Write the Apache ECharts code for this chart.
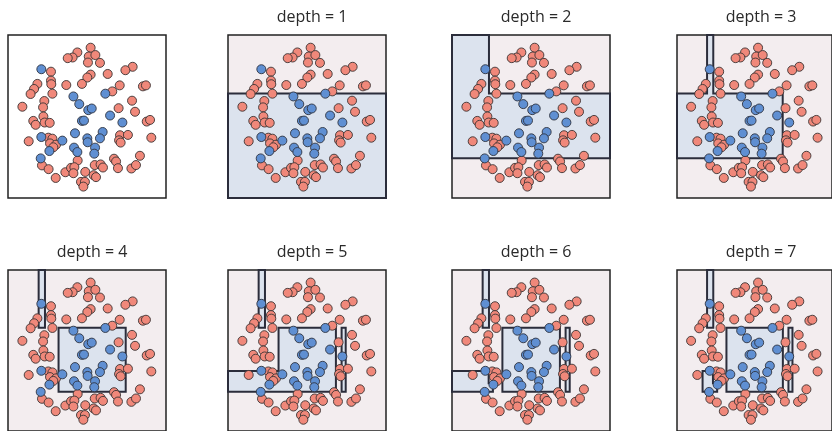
<!DOCTYPE html>
<html>
<head>
<meta charset="utf-8">
<script src="https://cdn.jsdelivr.net/npm/echarts@6/dist/echarts.min.js"></script>
<style>
  html, body { margin: 0; padding: 0; background: #ffffff; }
  #chart { width: 832px; height: 431px; }
</style>
</head>
<body>
<div id="chart"></div>
<script>
// Two-class sample (x, y in 0..100 units)
const redPoints = [
  [52.3, 92.2], [43.9, 89.3], [40.9, 86.2], [37.8, 85.8], [51.1, 86.8], [55.3, 87.7],
  [50.6, 83.1], [58.2, 82.9], [27.2, 77.5], [78.9, 80.5], [74.3, 78.4], [63.1, 76.1],
  [52.3, 75.7], [50.2, 73.9], [27.2, 72.0], [27.4, 69.8], [18.6, 70.0], [16.5, 66.9],
  [14.3, 63.8], [36.9, 69.3], [46.8, 70.0], [70.7, 69.1], [85.4, 68.5], [87.3, 69.1],
  [66.0, 65.4], [28.1, 64.0], [23.0, 59.5], [22.2, 55.6], [9.1, 56.0], [78.5, 59.7],
  [70.0, 55.1], [80.4, 52.9], [22.4, 50.0], [16.0, 47.3], [17.5, 44.9], [23.2, 46.3],
  [26.4, 46.1], [87.8, 46.9], [89.9, 47.9], [13.1, 34.8], [25.5, 37.0], [28.1, 36.4],
  [26.6, 33.5], [30.4, 32.7], [28.7, 31.1], [70.9, 38.5], [75.9, 38.7], [70.3, 35.4],
  [71.3, 34.0], [90.7, 37.0], [83.5, 25.9], [44.1, 23.0], [67.1, 24.1], [68.4, 22.4],
  [21.5, 20.0], [25.7, 17.7], [54.9, 20.2], [58.6, 20.6], [60.1, 18.7], [69.6, 18.3],
  [78.1, 18.1], [81.0, 20.2], [36.3, 15.8], [39.9, 18.5], [42.0, 18.9], [41.4, 15.2],
  [48.9, 16.0], [54.2, 14.0], [55.7, 12.8], [30.2, 12.3], [46.2, 9.9], [48.7, 9.9],
  [47.7, 7.0]
];
const bluePoints = [
  [21.1, 79.0], [61.6, 64.0], [41.4, 62.3], [45.1, 57.6], [50.8, 53.9], [53.0, 54.9],
  [64.6, 50.6], [46.8, 47.3], [48.1, 47.5], [72.4, 46.3], [59.9, 40.5], [42.4, 39.7],
  [21.1, 37.4], [34.4, 35.2], [50.2, 36.6], [58.2, 36.6], [50.4, 34.2], [41.8, 30.9],
  [55.1, 30.9], [26.2, 28.8], [43.9, 28.2], [54.6, 27.2], [20.7, 24.3]
];

// Panel titles (first panel shows the raw data only)
const panelTitles = ['', 'depth = 1', 'depth = 2', 'depth = 3', 'depth = 4', 'depth = 5', 'depth = 6', 'depth = 7'];

// Regions predicted as the blue class, one list of polygons per tree depth
const stripLeft = [[19.4, 64.1], [23.4, 64.1], [23.4, 100], [19.4, 100]];
const stripRight = [[71.9, 24.4], [74.5, 24.4], [74.5, 64.1], [71.9, 64.1]];
const blueRegions = [
  [],
  [[[0, 0], [100, 0], [100, 64.1], [0, 64.1]]],
  [[[0, 24.4], [100, 24.4], [100, 64.1], [23.4, 64.1], [23.4, 100], [0, 100]]],
  [[[0, 24.4], [68.2, 24.4], [68.2, 64.1], [23.4, 64.1], [23.4, 100], [19.4, 100], [19.4, 64.1], [0, 64.1]]],
  [stripLeft, [[32.0, 24.4], [74.5, 24.4], [74.5, 64.1], [32.0, 64.1]]],
  [stripLeft, [[0, 24.4], [68.3, 24.4], [68.3, 64.1], [32.0, 64.1], [32.0, 37.2], [0, 37.2]], stripRight],
  [stripLeft, [[31.9, 24.4], [68.3, 24.4], [68.3, 64.1], [31.9, 64.1]],
    [[0, 24.4], [25.9, 24.4], [25.9, 29.6], [23.2, 29.6], [23.2, 37.2], [0, 37.2]], stripRight],
  [stripLeft, [[31.9, 24.4], [68.3, 24.4], [68.3, 64.1], [31.9, 64.1]],
    [[16.5, 24.4], [25.9, 24.4], [25.9, 29.6], [23.2, 29.6], [23.2, 37.2], [16.5, 37.2]], stripRight]
];

const colLefts = [8, 228, 452, 677];
const rowTops = [35, 270];
const panelW = 158, panelH = 163;

const grids = [], xAxes = [], yAxes = [], series = [], titles = [];
panelTitles.forEach((t, i) => {
  const left = colLefts[i % 4];
  const top = rowTops[Math.floor(i / 4)];
  grids.push({
    left: left, top: top, width: panelW, height: panelH,
    show: true,
    backgroundColor: i === 0 ? '#ffffff' : '#f3edef',
    borderColor: '#222222', borderWidth: 1.5
  });
  xAxes.push({ gridIndex: i, type: 'value', min: 0, max: 100, show: false });
  yAxes.push({ gridIndex: i, type: 'value', min: 0, max: 100, show: false });
  if (t) {
    titles.push({
      text: t, left: left + panelW / 2, top: top - 31, textAlign: 'center',
      textStyle: { fontFamily: 'Open Sans', fontWeight: 'normal', fontSize: 16, color: '#2a2a2a' }
    });
  }
  const regions = blueRegions[i];
  if (regions.length) {
    series.push({
      type: 'custom', xAxisIndex: i, yAxisIndex: i, z: 1, silent: true,
      data: regions.map(r => r[0]),
      renderItem: (params, api) => {
        const pts = regions[params.dataIndex].map(p => api.coord(p));
        return {
          type: 'polygon', shape: { points: pts },
          style: { fill: '#dce3ee', stroke: '#2b2d3b', lineWidth: 2 }
        };
      }
    });
  }
  series.push({
    type: 'scatter', xAxisIndex: i, yAxisIndex: i, z: 3, symbolSize: 9,
    data: redPoints,
    itemStyle: { color: '#f0887a', borderColor: '#3b3333', borderWidth: 0.9, opacity: 1 }
  });
  series.push({
    type: 'scatter', xAxisIndex: i, yAxisIndex: i, z: 3, symbolSize: 9,
    data: bluePoints,
    itemStyle: { color: '#5f8fd2', borderColor: '#2f3340', borderWidth: 0.9, opacity: 1 }
  });
});

const chart = echarts.init(document.getElementById('chart'), null, { renderer: 'canvas' });
chart.setOption({
  animation: false,
  title: titles,
  grid: grids,
  xAxis: xAxes,
  yAxis: yAxes,
  series: series
});
</script>
</body>
</html>
